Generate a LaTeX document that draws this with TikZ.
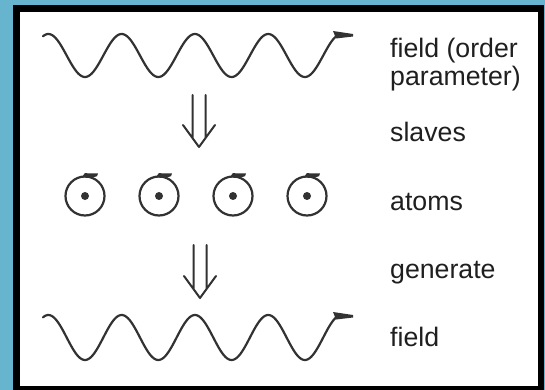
\documentclass[tikz,border=0pt]{standalone}
\usepackage{fontspec}
\setmainfont{Liberation Sans}
\usetikzlibrary{calc}
\definecolor{bgblue}{RGB}{102,180,205}
\definecolor{ink}{RGB}{50,50,50}
\begin{document}
\begin{tikzpicture}[x=1pt,y=-1pt,
  wave/.style={draw=ink, line width=2.2pt, line cap=round, line join=round},
  flag/.style={fill=ink},
  arr/.style={draw=ink, line width=2pt, line cap=round, line join=round},
  atom/.style={circle, draw=ink, line width=2.2pt, minimum size=39pt, inner sep=0pt},
  lbl/.style={text=black!88, font=\fontsize{26.7}{28}\selectfont, inner sep=0pt, anchor=base west, align=left}]
\useasboundingbox (0,0) rectangle (545,390);
\fill[bgblue] (0,0) rectangle (545,390);
\fill[black] (13,5) rectangle (544,390);
\fill[white] (20,12) rectangle (538,386);

% top wave (field / order parameter)
\draw[wave] plot[domain=43:336, samples=200, smooth] (\x, {55.5 + 21.5*cos(((\x-85)/73.3)*360)});
\fill[flag] (333,31) -- (353,34) -- (353,36.5) -- (336,38.5) -- cycle;

% bottom wave (field)
\draw[wave] plot[domain=43:336, samples=200, smooth] (\x, {337.5 + 22.5*cos(((\x-85)/73.3)*360)});
\fill[flag] (333,312) -- (353,315) -- (353,317.5) -- (336,319.5) -- cycle;

% double arrows
\coordinate (tipA) at (199,147);
\coordinate (tipB) at (200,298);
\foreach \t/\len in {tipA/52, tipB/53}{
  \draw[arr] ($(\t)+(-6.5,-\len)$) -- ($(\t)+(-6.5,-9)$)
             ($(\t)+(6.5,-\len)$) -- ($(\t)+(6.5,-9)$)
             ($(\t)+(-16,-22)$) -- (\t) -- ($(\t)+(16,-22)$);
}

% atoms
\foreach \n/\cx in {1/85, 2/159, 3/233, 4/307}{
  \node[atom] (atom\n) at (\cx,196) {};
  \fill[ink] (atom\n.center) circle (4);
  \coordinate (top\n) at ($(atom\n.center)+(0,-19.5)$);
  \fill[flag] ($(top\n)+(-2,-1.2)$) -- ($(top\n)+(0,-3.3)$) -- ($(top\n)+(13,-3)$) -- ($(top\n)+(12,-0.3)$) -- ($(top\n)+(6,1.4)$) -- ($(top\n)+(0,1.2)$) -- cycle;
}

% labels
\node[lbl] (lfield1) at (390,86) {field (order\\parameter)};
\node[lbl] (lslaves) at (390,142) {slaves};
\node[lbl] (latoms) at (390,210) {atoms};
\node[lbl] (lgen) at (390,278) {generate};
\node[lbl] (lfield2) at (390,346) {field};
\end{tikzpicture}
\end{document}
